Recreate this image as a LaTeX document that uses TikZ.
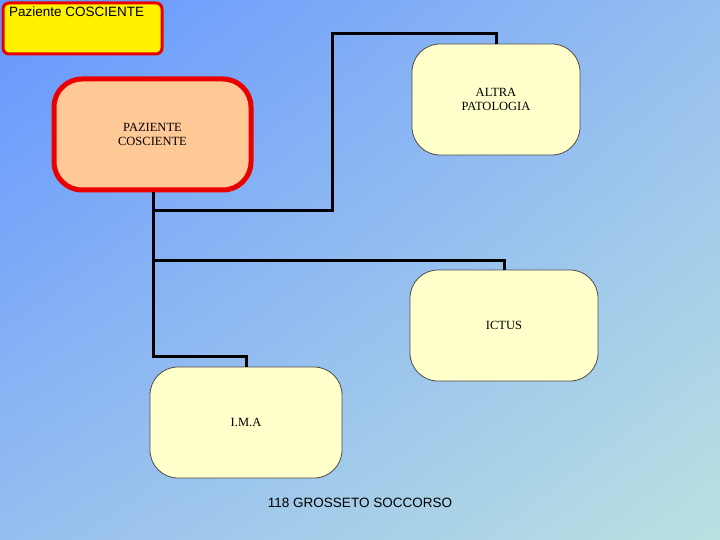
\documentclass[tikz,border=0pt]{standalone}
\usepackage{fontspec}
\usetikzlibrary{shadings}
\setsansfont{Liberation Sans}
\setmainfont{Liberation Serif}
\definecolor{bgA}{RGB}{100,150,255}
\definecolor{bgB}{RGB}{150,190,240}
\definecolor{bgC}{RGB}{185,225,225}
\definecolor{boxY}{RGB}{255,255,204}
\definecolor{peach}{RGB}{255,200,150}
\definecolor{redB}{RGB}{235,0,0}
\begin{document}
\begin{tikzpicture}[x=1pt,y=-1pt,
  box/.style={draw=black!70,line width=0.8pt,fill=boxY,rounded corners=28pt,font=\rmfamily\fontsize{12.5}{14}\selectfont,align=center,inner sep=0pt},
  conn/.style={line width=3pt,black}]
\useasboundingbox (0,0) rectangle (720,540);
\shade[upper left=bgA,upper right=bgB,lower left=bgB,lower right=bgC] (0,0) rectangle (720,540);
\node[draw=redB,line width=3pt,fill=yellow,rounded corners=6pt,minimum width=159pt,minimum height=51pt,anchor=north west] (title) at (1.5,1.5) {};
\node[font=\sffamily\fontsize{13.5}{16}\selectfont,anchor=north west,inner sep=0pt] (tt) at (9,7) {Paziente COSCIENTE};
\node[box,draw=redB,line width=5pt,fill=peach,minimum width=197pt,minimum height=111pt] (p) at (152.5,134.5) {PAZIENTE\\COSCIENTE};
\node[box,minimum width=168pt,minimum height=111pt] (a) at (496,99.5) {ALTRA\\PATOLOGIA};
\node[box,minimum width=188pt,minimum height=111pt] (c) at (504,325.5) {ICTUS};
\node[box,minimum width=192pt,minimum height=111pt] (m) at (246,422.5) {I.M.A};
\node[font=\sffamily\fontsize{13.5}{16}\selectfont] (f) at (360,503) {118 GROSSETO SOCCORSO};
\coordinate (s) at (153,192);
\coordinate (b1) at (153,211);
\coordinate (b2) at (153,260);
\draw[conn] (s) -- (153,356) -| (m.north);
\draw[conn] (b1) -- (332,211) |- (496,34) -- (a.north);
\draw[conn] (b2) -| (c.north);
\end{tikzpicture}
\end{document}
